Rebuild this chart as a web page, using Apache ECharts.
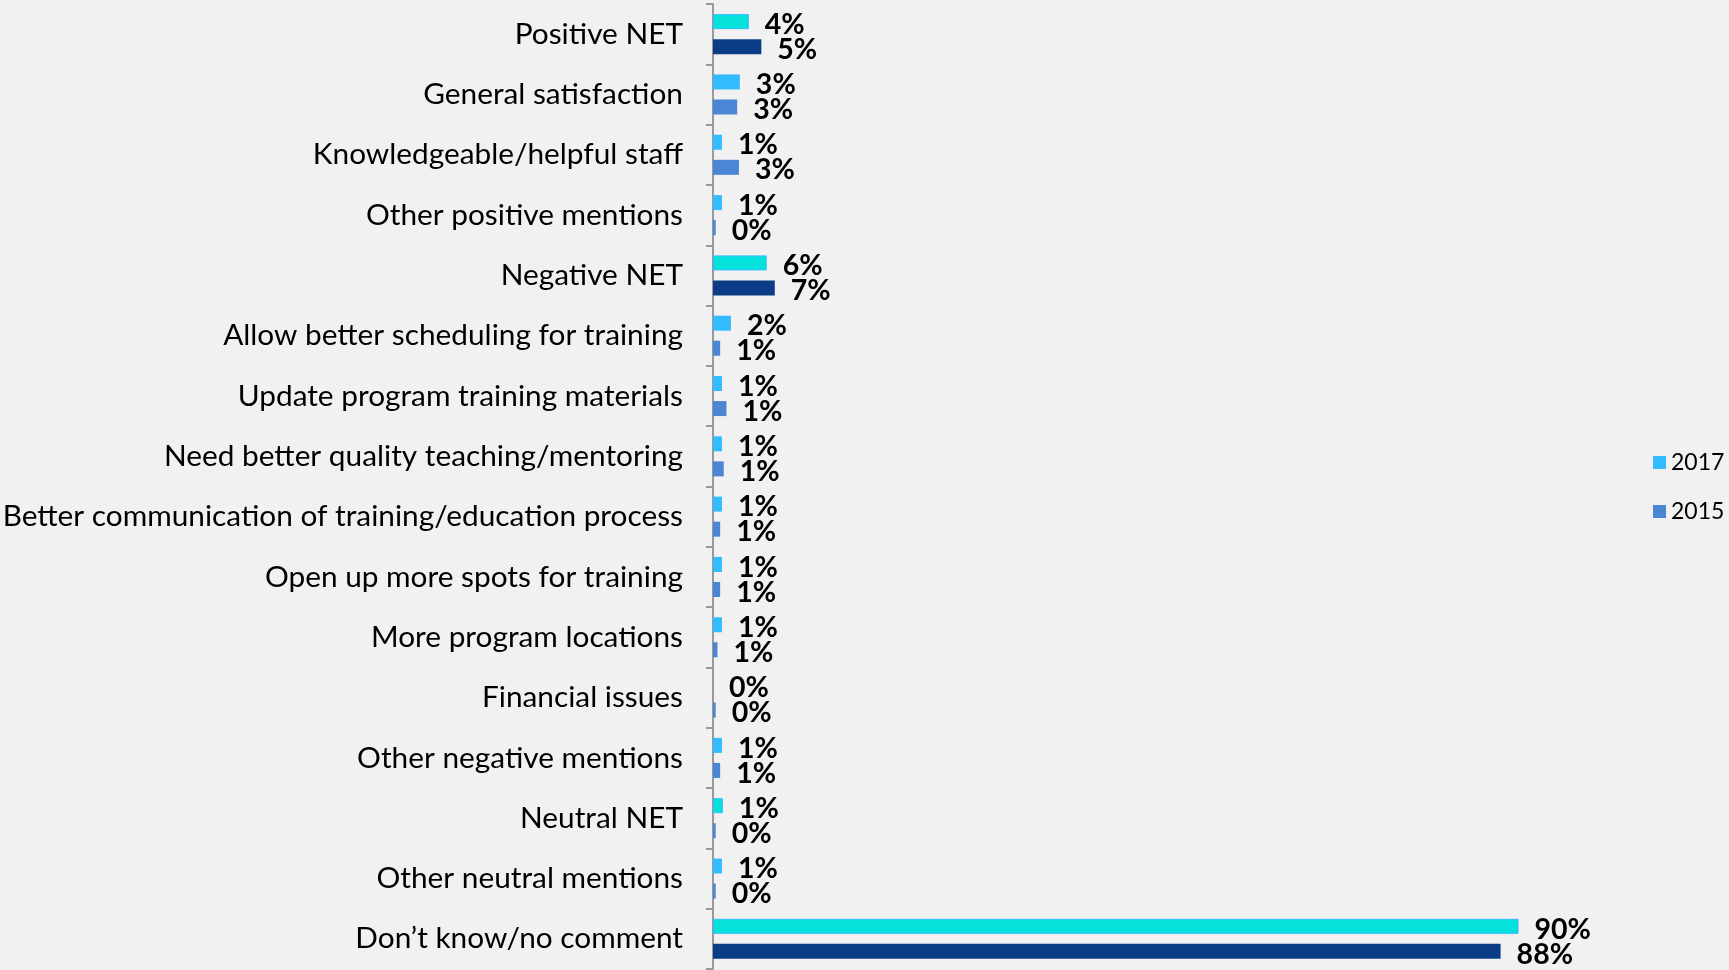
<!DOCTYPE html>
<html>
<head>
<meta charset="utf-8">
<script src="https://cdn.jsdelivr.net/npm/echarts@6/dist/echarts.min.js"></script>
<style>
  html, body { margin: 0; padding: 0; background: #f1f1f1; }
  #chart { width: 1729px; height: 970px; }
</style>
</head>
<body>
<div id="chart"></div>
<script>
var categories = [
  'Positive NET',
  'General satisfaction',
  'Knowledgeable/helpful staff',
  'Other positive mentions',
  'Negative NET',
  'Allow better scheduling for training',
  'Update program training materials',
  'Need better quality teaching/mentoring',
  'Better communication of training/education process',
  'Open up more spots for training',
  'More program locations',
  'Financial issues',
  'Other negative mentions',
  'Neutral NET',
  'Other neutral mentions',
  'Don\u2019t know/no comment'
]
var values2017 = [4, 3, 1, 1, 6, 2, 1, 1, 1, 1, 1, 0, 1, 1.1, 1, 90]
var values2015 = [5.4, 2.7, 2.9, 0.3, 6.9, 0.8, 1.5, 1.2, 0.8, 0.8, 0.5, 0.3, 0.8, 0.3, 0.3, 88]
var labels2017 = ['4%', '3%', '1%', '1%', '6%', '2%', '1%', '1%', '1%', '1%', '1%', '0%', '1%', '1%', '1%', '90%']
var labels2015 = ['5%', '3%', '3%', '0%', '7%', '1%', '1%', '1%', '1%', '1%', '1%', '0%', '1%', '0%', '0%', '88%']
// rows drawn in the highlight colours
var netRows2017 = [0, 4, 13, 15]
var netRows2015 = [0, 4, 15]

var makeData = (vals, labels, netRows, netColor, netBorder) => {
  return vals.map((v, i) => {
    var item = { value: v, labelText: labels[i] }
    if (netRows.indexOf(i) >= 0) {
      item.itemStyle = { color: netColor, borderColor: netBorder, borderWidth: netBorder ? 1 : 0 }
    }
    return item
  })
}

var labelStyle = {
  show: true,
  position: 'right',
  distance: 16,
  offset: [0, 3],
  fontFamily: 'Lato',
  fontWeight: 'bold',
  fontSize: 28.5,
  color: '#000',
  formatter: function (p) { return p.data.labelText }
}

var myChart = echarts.init(document.getElementById('chart'))
myChart.setOption({
  backgroundColor: '#f1f1f1',
  animation: false,
  legend: {
    orient: 'vertical',
    left: 1648,
    top: 446,
    itemWidth: 13,
    itemHeight: 13,
    itemGap: 26,
    icon: 'rect',
    textStyle: { fontFamily: 'Lato', fontSize: 23, color: '#000' },
    data: ['2017', '2015']
  },
  grid: { left: 713, top: 4, right: 121, bottom: 1, containLabel: false, outerBoundsMode: 'none' },
  xAxis: {
    type: 'value',
    min: 0,
    max: 100,
    show: false
  },
  yAxis: {
    type: 'category',
    inverse: true,
    data: categories,
    axisLine: { lineStyle: { color: '#999', width: 2 } },
    axisTick: { show: true, length: 7, lineStyle: { color: '#999', width: 2 } },
    axisLabel: { fontFamily: 'Lato', fontSize: 29.8, color: '#000', margin: 30 }
  },
  series: [
    {
      name: '2017',
      type: 'bar',
      barWidth: 15,
      barGap: '67%',
      itemStyle: { color: '#33bbff' },
      label: labelStyle,
      data: makeData(values2017, labels2017, netRows2017, '#05e2dc', '#33bbff')
    },
    {
      name: '2015',
      type: 'bar',
      barWidth: 15,
      itemStyle: { color: '#4a86d4' },
      label: labelStyle,
      data: makeData(values2015, labels2015, netRows2015, '#0a3d85', null)
    }
  ]
})
</script>
</body>
</html>
